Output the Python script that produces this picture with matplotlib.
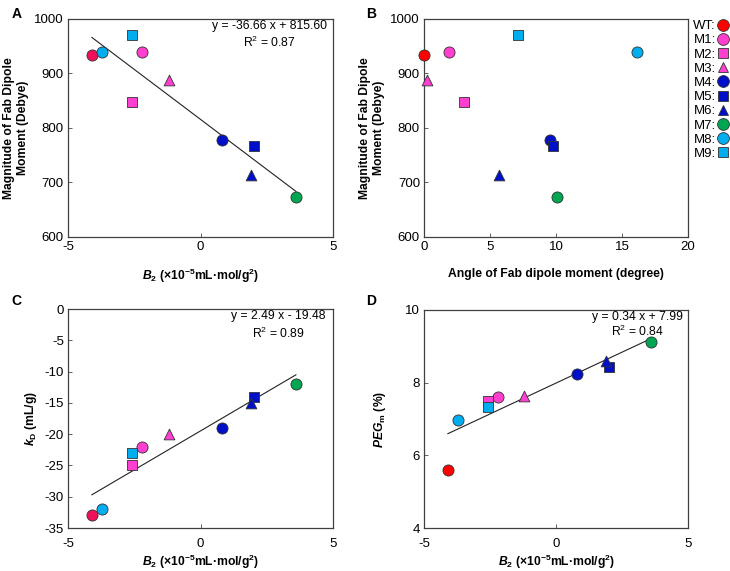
import numpy as np
import matplotlib
matplotlib.use('Agg')
import matplotlib.pyplot as plt
from matplotlib.lines import Line2D

plt.rcParams['font.family'] = ['Liberation Sans', 'DejaVu Sans']
plt.rcParams['axes.unicode_minus'] = False
plt.rcParams['mathtext.fontset'] = 'custom'
plt.rcParams['mathtext.rm'] = 'Liberation Sans'
plt.rcParams['mathtext.it'] = 'Liberation Sans:italic'
plt.rcParams['mathtext.bf'] = 'Liberation Sans:bold'
plt.rcParams['mathtext.bfit'] = 'Liberation Sans:italic:bold'

# data
names = ['WT', 'M1', 'M2', 'M3', 'M4', 'M5', 'M6', 'M7', 'M8', 'M9']
b2 = [-4.1, -2.2, -2.57, -1.2, 0.8, 2.02, 1.9, 3.6, -3.7, -2.57]
dipole = [933, 940, 848, 888, 777, 767, 713, 674, 940, 970]
angle = [0.0, 1.87, 3.05, 0.2, 9.55, 9.77, 5.68, 10.08, 16.1, 7.1]
kd = [-33, -22, -25, -20, -19, -14, -15, -12, -32, -23]
pegm = [5.61, 7.61, 7.5, 7.64, 8.24, 8.43, 8.6, 9.11, 6.96, 7.32]

markers = ['o', 'o', 's', '^', 'o', 's', '^', 'o', 'o', 's']
colors = ['#ff0000', '#ff3fcf', '#ff3fcf', '#ff3fcf', '#0010c8', '#0010c8', '#0010c8',
          '#00a651', '#00aeef', '#00aeef']
wt_alt = '#f0105a'  # WT colour in panels A and C

# fits shown on the chart
fit_a = (-36.66, 815.60, 0.87)
fit_c = (2.49, -19.48, 0.89)
fit_d = (0.34, 7.99, 0.84)

fig = plt.figure(figsize=(7.3, 5.71), dpi=100)
axA = fig.add_axes([0.0932, 0.585, 0.363, 0.382])
axB = fig.add_axes([0.581, 0.585, 0.3616, 0.382])
axC = fig.add_axes([0.0932, 0.0753, 0.363, 0.3835])
axD = fig.add_axes([0.581, 0.0753, 0.3616, 0.3818])

sizes = {'o': 64, 's': 54, '^': 60}

def scatter(ax, xs, ys, wt_color):
    for i in range(len(names)):
        c = colors[i]
        if i == 0:
            c = wt_color
        ax.scatter(xs[i], ys[i], marker=markers[i], s=sizes[markers[i]], c=c,
                   edgecolors='#333333', linewidths=0.6, zorder=3, clip_on=False)

def fitline(ax, fit, eq_x, eq_y, r_y):
    m, b, r2 = fit
    xx = np.array([min(b2), max(b2)])
    ax.plot(xx, m * xx + b, color='#222222', lw=0.8, zorder=2)
    sign = '+' if b >= 0 else '-'
    ax.text(eq_x, eq_y, 'y = %.2f x %s %.2f' % (m, sign, abs(b)), transform=ax.transAxes,
            ha='center', va='center', fontsize=8.7)
    ax.text(eq_x, r_y, 'R$^2$ = %.2f' % r2, transform=ax.transAxes,
            ha='center', va='center', fontsize=8.7)

def style(ax, xpad=3):
    for s in ax.spines.values():
        s.set_color('#404040')
        s.set_linewidth(0.9)
    ax.tick_params(direction='in', length=3, width=0.7, color='#606060',
                   labelsize=9.5, pad=3)
    ax.tick_params(axis='x', pad=xpad)

b2_label = r'$\mathbfit{B}_\mathbf{2}$ (×10$^{\mathbf{-5}}$mL·mol/g$^{\mathbf{2}}$)'

# A
scatter(axA, b2, dipole, wt_alt)
fitline(axA, fit_a, 0.76, 0.965, 0.89)
axA.set_xlim(-5, 5)
axA.set_ylim(600, 1000)
axA.set_xticks([-5, 0, 5])
axA.set_yticks([600, 700, 800, 900, 1000])
axA.set_xlabel(b2_label, fontsize=8.7, fontweight='bold', labelpad=10)
axA.set_ylabel('Magnitude of Fab Dipole\nMoment (Debye)', fontsize=8.7,
               fontweight='bold', labelpad=4)
style(axA)

# B
scatter(axB, angle, dipole, colors[0])
axB.set_xlim(0, 20)
axB.set_ylim(600, 1000)
axB.set_xticks([0, 5, 10, 15, 20])
axB.set_yticks([600, 700, 800, 900, 1000])
axB.set_xlabel('Angle of Fab dipole moment (degree)', fontsize=8.7,
               fontweight='bold', labelpad=11)
axB.set_ylabel('Magnitude of Fab Dipole\nMoment (Debye)', fontsize=8.7,
               fontweight='bold', labelpad=4)
style(axB)

handles = [Line2D([], [], ls='none', marker=markers[i], color=colors[i],
                  markeredgecolor='#333333', markeredgewidth=0.6,
                  markersize={'o': 8.5, 's': 6.5, '^': 7}[markers[i]])
           for i in range(len(names))]
axB.legend(handles, [n + ':' for n in names], loc='upper left',
           bbox_to_anchor=(1.02, 0.995), markerfirst=False, frameon=False,
           fontsize=9.5, handlelength=0.9, handletextpad=0.1,
           labelspacing=0.15, borderaxespad=0, borderpad=0)

# C
scatter(axC, b2, kd, wt_alt)
fitline(axC, fit_c, 0.795, 0.968, 0.89)
axC.set_xlim(-5, 5)
axC.set_ylim(-35, 0)
axC.set_xticks([-5, 0, 5])
axC.set_yticks(np.arange(-35, 1, 5))
axC.set_xlabel(b2_label, fontsize=8.7, fontweight='bold', labelpad=2)
axC.set_ylabel(r'$\mathbfit{k}_\mathbf{D}$ (mL/g)', fontsize=8.7, fontweight='bold',
               labelpad=4)
style(axC, xpad=7)

# D
scatter(axD, b2, pegm, colors[0])
fitline(axD, fit_d, 0.81, 0.97, 0.902)
axD.set_xlim(-5, 5)
axD.set_ylim(4, 10)
axD.set_xticks([-5, 0, 5])
axD.set_yticks([4, 6, 8, 10])
axD.set_xlabel(b2_label, fontsize=8.7, fontweight='bold', labelpad=2)
axD.set_ylabel(r'$\mathbfit{PEG}_\mathbf{m}$ (%)', fontsize=8.7, fontweight='bold',
               labelpad=12)
style(axD, xpad=7)

for lbl, x, y in [('A', 0.016, 0.988), ('B', 0.502, 0.988), ('C', 0.016, 0.485), ('D', 0.502, 0.485)]:
    fig.text(x, y, lbl, fontsize=10, fontweight='bold', ha='left', va='top')

fig.savefig('out.png', dpi=100)
